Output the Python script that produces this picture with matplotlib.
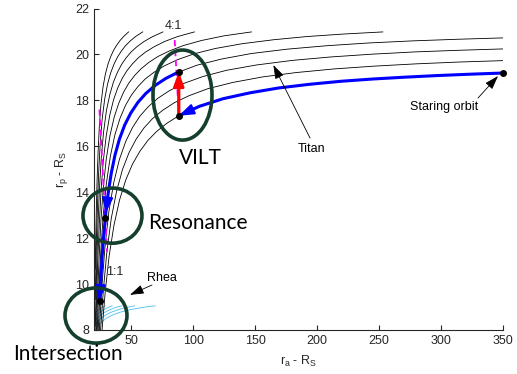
import matplotlib
matplotlib.use('Agg')
import matplotlib.pyplot as plt
from matplotlib.patches import Ellipse

# ---------------- data ----------------
# Titan Tisserand curves (r_a, r_p), one per v_inf level (km/s)
T10_ra = [21.0, 21.4, 21.9, 22.5, 23.3, 24.3, 25.6, 27.3, 29.2, 31.3, 33.5, 35.8, 38.4, 41.2, 44.3, 47.9]
T10_rp = [10.65, 11.97, 13.27, 14.54, 15.75, 16.87, 17.83, 18.59, 19.15, 19.58, 19.91, 20.18, 20.41, 20.62, 20.80, 20.98]
T12_ra = [21.0, 21.5, 22.1, 22.9, 23.8, 25.0, 26.6, 28.6, 30.9, 33.4, 36.1, 38.9, 42.0, 45.4, 49.3, 53.8, 59.3]
T12_rp = [9.33, 10.77, 12.19, 13.57, 14.90, 16.12, 17.19, 18.05, 18.70, 19.19, 19.57, 19.88, 20.14, 20.38, 20.59, 20.79, 20.98]
T14_ra = [21.0, 21.7, 22.4, 23.3, 24.4, 25.8, 27.7, 30.0, 32.8, 35.7, 38.9, 42.2, 45.9, 50.0, 54.7, 60.3, 67.1, 75.6]
T14_rp = [8.17, 9.72, 11.24, 12.72, 14.15, 15.46, 16.61, 17.55, 18.26, 18.80, 19.22, 19.56, 19.85, 20.11, 20.34, 20.56, 20.77, 20.98]
T16_ra = [21.4, 22.2, 23.1, 24.3, 25.7, 27.5, 29.9, 32.7, 35.8, 39.2, 42.8, 46.7, 51.0, 55.9, 61.5, 68.4, 76.8, 87.6, 101]
T16_rp = [8.00, 9.59, 11.15, 12.65, 14.08, 15.37, 16.47, 17.35, 18.03, 18.55, 18.96, 19.30, 19.59, 19.86, 20.10, 20.33, 20.56, 20.78, 20.98]
T18_ra = [22.0, 23.0, 24.2, 25.6, 27.5, 29.9, 32.9, 36.3, 40.0, 44.0, 48.2, 52.9, 58.1, 64.2, 71.6, 80.7, 92.3, 107, 125, 147]
T18_rp = [8.00, 9.65, 11.25, 12.79, 14.20, 15.45, 16.47, 17.27, 17.88, 18.37, 18.76, 19.09, 19.38, 19.65, 19.91, 20.15, 20.39, 20.61, 20.81, 20.98]
T20_ra = [22.6, 23.9, 25.5, 27.4, 30.0, 33.2, 36.9, 41.0, 45.4, 50.2, 55.4, 61.3, 68.3, 76.7, 87.3, 101, 118, 140, 165, 192, 222, 253]
T20_rp = [8.00, 9.74, 11.42, 12.99, 14.39, 15.57, 16.51, 17.22, 17.78, 18.23, 18.60, 18.93, 19.22, 19.50, 19.77, 20.03, 20.26, 20.47, 20.64, 20.78, 20.89, 20.98]
T22_ra = [23.4, 25.1, 27.3, 30.1, 33.7, 38.1, 42.9, 48.2, 54.0, 60.4, 67.8, 76.9, 88.3, 103, 123, 147, 176, 208, 242, 277, 313, 350]
T22_rp = [8.00, 9.92, 11.74, 13.38, 14.77, 15.86, 16.68, 17.31, 17.81, 18.22, 18.59, 18.92, 19.23, 19.53, 19.80, 20.04, 20.23, 20.38, 20.50, 20.59, 20.66, 20.72]
T24_ra = [24.3, 26.3, 28.8, 31.9, 35.9, 40.5, 45.6, 51.1, 57.0, 63.7, 71.5, 80.8, 92.6, 108, 127, 151, 180, 211, 244, 279, 314, 350]
T24_rp = [8.00, 9.85, 11.58, 13.12, 14.41, 15.43, 16.21, 16.82, 17.31, 17.72, 18.09, 18.42, 18.74, 19.04, 19.31, 19.54, 19.74, 19.89, 20.01, 20.11, 20.18, 20.24]
T26_ra = [25.3, 27.6, 30.4, 33.9, 38.2, 43.0, 48.3, 54.0, 60.2, 67.1, 75.2, 84.9, 97.0, 112, 132, 156, 183, 214, 246, 280, 315, 350]
T26_rp = [8.00, 9.77, 11.41, 12.85, 14.04, 14.99, 15.73, 16.31, 16.79, 17.20, 17.56, 17.90, 18.21, 18.51, 18.78, 19.02, 19.21, 19.37, 19.49, 19.59, 19.67, 19.73]
T28_ra = [26.5, 29.1, 32.2, 36.1, 40.6, 45.6, 51.1, 57.0, 63.4, 70.6, 79.0, 89.0, 101, 117, 137, 160, 187, 217, 249, 282, 316, 350]
T28_rp = [8.00, 9.69, 11.22, 12.56, 13.66, 14.53, 15.23, 15.78, 16.25, 16.65, 17.01, 17.35, 17.67, 17.96, 18.23, 18.47, 18.66, 18.82, 18.94, 19.04, 19.13, 19.19]

# Rhea Tisserand curves
R20_ra = [19.5, 20.7, 21.9, 23.2, 24.6, 26.1, 27.7, 29.2]
R20_rp = [8.65, 8.72, 8.79, 8.85, 8.91, 8.96, 9.01, 9.05]
R22_ra = [19.5, 21.2, 23.1, 25.2, 27.4, 29.7, 32.2, 34.7]
R22_rp = [8.48, 8.60, 8.70, 8.79, 8.87, 8.94, 9.00, 9.05]
R24_ra = [20.1, 22.4, 25.2, 28.2, 31.5, 35.0, 38.5, 42.1]
R24_rp = [8.35, 8.51, 8.64, 8.76, 8.85, 8.93, 9.00, 9.05]
R26_ra = [21.9, 25.3, 29.4, 33.7, 38.3, 43.1, 47.9, 52.7]
R26_rp = [8.30, 8.49, 8.65, 8.77, 8.86, 8.94, 9.00, 9.05]
R28_ra = [24.0, 29.4, 35.5, 42.0, 48.8, 55.6, 62.5, 69.4]
R28_rp = [8.25, 8.49, 8.67, 8.79, 8.88, 8.95, 9.01, 9.05]

# Transfer path: leg 1 (staring orbit -> VILT), leg 2 (after VILT -> Rhea)
leg1_ra = [350, 324, 297, 271, 245, 219, 194, 169, 146, 124, 105, 88.4]
leg1_rp = [19.19, 19.14, 19.08, 19.01, 18.93, 18.83, 18.70, 18.54, 18.33, 18.07, 17.74, 17.33]
leg2_ra = [88.4, 78.1, 69.3, 61.8, 55.4, 49.7, 44.8, 40.5, 36.9, 33.9, 31.5, 29.5, 27.9, 26.6, 25.5, 24.5]
leg2_rp = [19.24, 18.96, 18.65, 18.30, 17.91, 17.45, 16.93, 16.31, 15.61, 14.82, 13.98, 13.09, 12.16, 11.22, 10.25, 9.28]

# VILT manoeuvre (r_p raised at constant r_a)
vilt_ra = [88.4, 88.4]
vilt_rp = [17.33, 19.24]

# key points: staring orbit, VILT start, VILT end, resonance, intersection
pts_ra = [350, 88.4, 88.4, 29.1, 24.5]
pts_rp = [19.19, 17.33, 19.24, 12.87, 9.28]

# resonance lines
res41_ra = [88.4, 84.97]
res41_rp = [17.33, 20.76]
res11_ra = [24.37, 30.57]
res11_rp = [17.60, 11.40]

x_ticks = [50, 100, 150, 200, 250, 300, 350]
y_ticks = [8, 10, 12, 14, 16, 18, 20, 22]

titan = [(T10_ra, T10_rp), (T12_ra, T12_rp), (T14_ra, T14_rp), (T16_ra, T16_rp),
         (T18_ra, T18_rp), (T20_ra, T20_rp), (T22_ra, T22_rp), (T24_ra, T24_rp),
         (T26_ra, T26_rp), (T28_ra, T28_rp)]
rhea = [(R20_ra, R20_rp), (R22_ra, R22_rp), (R24_ra, R24_rp), (R26_ra, R26_rp), (R28_ra, R28_rp)]

# ---------------- plotting ----------------
plt.rcParams['font.family'] = ['Liberation Sans', 'DejaVu Sans']
plt.rcParams['mathtext.fontset'] = 'custom'
plt.rcParams['mathtext.rm'] = 'Liberation Sans'

fig = plt.figure(figsize=(5.17, 3.74), dpi=100)
ax = fig.add_axes([94/517, 1-330/374, (503-94)/517, (330-8.5)/374])

for ra, rp in rhea:
    ax.plot(ra, rp, color='#4DBEEE', lw=0.6, zorder=1)
for ra, rp in titan:
    ax.plot(ra, rp, color='k', lw=0.6, zorder=1.5)

dash = (0, (3.5, 2))
ax.plot(res41_ra, res41_rp, color='#FF00FF', lw=1.3, ls=dash, zorder=2)
ax.plot(res11_ra, res11_rp, color='#FF00FF', lw=1.3, ls=dash, zorder=2)

ax.plot(leg1_ra, leg1_rp, color='#0000FF', lw=2.2, zorder=3, solid_capstyle='butt')
ax.plot(leg2_ra, leg2_rp, color='#0000FF', lw=2.2, zorder=3, solid_capstyle='butt')

# arrowheads along the blue path
bstyle = '-|>,head_length=0.9,head_width=0.32'
for tip, tail in [((leg1_ra[-1], leg1_rp[-1]), (leg1_ra[-2], leg1_rp[-2])),
                  ((leg2_ra[11], leg2_rp[11]), (leg2_ra[10], leg2_rp[10])),
                  ((leg2_ra[-1], leg2_rp[-1]), (leg2_ra[-2], leg2_rp[-2]))]:
    ax.annotate('', xy=tip, xytext=tail,
                arrowprops=dict(arrowstyle=bstyle, color='#0000FF', lw=1.5,
                                shrinkA=0, shrinkB=0), zorder=3.5)

ax.annotate('', xy=(vilt_ra[1], vilt_rp[1]), xytext=(vilt_ra[0], vilt_rp[0]),
            arrowprops=dict(arrowstyle='-|>,head_length=0.8,head_width=0.3', color='red',
                            lw=2.3, shrinkA=0, shrinkB=0), zorder=4)

ax.plot(pts_ra, pts_rp, 'o', color='k', ms=4, zorder=5, clip_on=False)

ax.set_xlim(20, 350)
ax.set_ylim(8, 22)
ax.set_xticks(x_ticks)
ax.set_yticks(y_ticks)
ax.spines[['top', 'right']].set_visible(False)
for s in ('left', 'bottom'):
    ax.spines[s].set_color('#262626')
    ax.spines[s].set_linewidth(0.8)
ax.tick_params(direction='in', labelsize=9, length=3.5, colors='#262626')
ax.set_xlabel('r$_\\mathregular{a}$ - R$_\\mathregular{S}$', fontsize=9, color='#262626', labelpad=5)
ax.set_ylabel('r$_\\mathregular{p}$ - R$_\\mathregular{S}$', fontsize=9, color='#262626')

# labels
ax.text(84.1, 21.24, '4:1', fontsize=9, ha='center', va='center', color='#262626')
ax.text(36.5, 10.52, '1:1', fontsize=9, ha='center', va='center', color='#262626')
astyle = dict(arrowstyle='-|>,head_length=0.85,head_width=0.28', color='k', lw=0.6,
              shrinkA=0, shrinkB=0)
ax.text(195.1, 15.9, 'Titan', fontsize=9, ha='center', va='center')
ax.annotate('', xy=(164.7, 19.54), xytext=(194.3, 16.36), arrowprops=astyle, zorder=6)
ax.text(302.4, 17.69, 'Staring orbit', fontsize=9, ha='center', va='center')
ax.annotate('', xy=(346.0, 19.06), xytext=(329.8, 18.10), arrowprops=astyle, zorder=6)
ax.text(74.5, 10.28, 'Rhea', fontsize=9, ha='center', va='center')
ax.annotate('', xy=(49.0, 9.53), xytext=(66.8, 9.96), arrowprops=astyle, zorder=6)

# highlight ellipses
g = '#143f2c'
for c, w, h in [((91.4, 18.23), 47.6, 3.92), ((34.9, 12.98), 47.6, 2.40), ((21.6, 8.63), 50, 2.40)]:
    ax.add_patch(Ellipse(c, w, h, fill=False, ec=g, lw=2.6, clip_on=False, zorder=6))
for s, (X, Y) in [('VILT', (200.5, 157.5)), ('Resonance', (197.5, 223.5)), ('Intersection', (67.5, 354.5))]:
    fig.text(X/517, 1-Y/374, s, fontsize=15, family='Lato', ha='center', va='center')

fig.savefig('out.png', dpi=100)
